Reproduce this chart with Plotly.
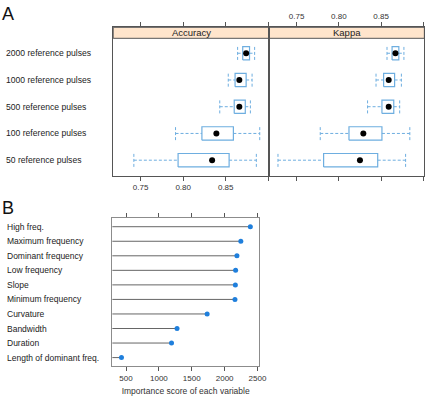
import plotly.graph_objects as go

W, H = 436, 396

# ---------------- Data ----------------
groups = ["50 reference pulses", "100 reference pulses", "500 reference pulses",
          "1000 reference pulses", "2000 reference pulses"]

acc_low = [0.742, 0.791, 0.843, 0.853, 0.864]
acc_q1 = [0.794, 0.822, 0.860, 0.861, 0.870]
acc_med = [0.834, 0.839, 0.866, 0.866, 0.874]
acc_q3 = [0.854, 0.859, 0.873, 0.874, 0.878]
acc_high = [0.886, 0.890, 0.879, 0.881, 0.884]

kap_low = [0.728, 0.778, 0.834, 0.844, 0.857]
kap_q1 = [0.782, 0.812, 0.851, 0.853, 0.863]
kap_med = [0.825, 0.829, 0.859, 0.859, 0.867]
kap_q3 = [0.846, 0.851, 0.865, 0.866, 0.871]
kap_high = [0.879, 0.884, 0.872, 0.874, 0.877]

variables = ["Length of dominant freq.", "Duration", "Bandwidth", "Curvature",
             "Minimum frequency", "Slope", "Low frequency", "Dominant frequency",
             "Maximum frequency", "High freq."]
importance = [431, 1192, 1276, 1734, 2157, 2163, 2167, 2187, 2246, 2391]

acc_ticks = [0.75, 0.80, 0.85, 0.90]
acc_ticktext = ["0.75", "0.80", "0.85", ""]
imp_ticks = [500, 1000, 1500, 2000, 2500]

# ---------------- Style ----------------
BOX = "#6eaee0"
DOT_B = "#1f7fdc"
BORDER_A = "#555555"
BORDER_B = "#8c8c8c"
STRIP = "#ffe5cc"
FONT = "Liberation Sans, Arial, sans-serif"
HALF = 0.25

def px_x(p):
    return p / W

def px_y(p):
    return 1 - p / H

fig = go.Figure()

def add_boxes(low, q1, med, q3, high, xa, ya):
    for i in range(len(groups)):
        y = i + 1
        fig.add_trace(go.Scatter(
            x=[q1[i], q3[i], q3[i], q1[i], q1[i]],
            y=[y - HALF, y - HALF, y + HALF, y + HALF, y - HALF],
            mode="lines", line=dict(color=BOX, width=1.2),
            xaxis=xa, yaxis=ya, showlegend=False, hoverinfo="skip"))
        for xa_end, xb_end in [(low[i], q1[i]), (q3[i], high[i])]:
            fig.add_trace(go.Scatter(
                x=[xa_end, xb_end], y=[y, y], mode="lines",
                line=dict(color=BOX, width=1, dash="3px,2px"),
                xaxis=xa, yaxis=ya, showlegend=False, hoverinfo="skip"))
        for fx in (low[i], high[i]):
            fig.add_trace(go.Scatter(
                x=[fx, fx], y=[y - HALF, y + HALF], mode="lines",
                line=dict(color=BOX, width=1, dash="3px,2px"),
                xaxis=xa, yaxis=ya, showlegend=False, hoverinfo="skip"))
    fig.add_trace(go.Scatter(
        x=med, y=list(range(1, len(groups) + 1)), mode="markers",
        marker=dict(color="black", size=6),
        xaxis=xa, yaxis=ya, showlegend=False, hoverinfo="skip"))

add_boxes(acc_low, acc_q1, acc_med, acc_q3, acc_high, "x", "y")
add_boxes(kap_low, kap_q1, kap_med, kap_q3, kap_high, "x2", "y2")

# Panel B lollipops
xmin_b = 290
for i, v in enumerate(importance):
    fig.add_trace(go.Scatter(
        x=[xmin_b, v], y=[i + 1, i + 1], mode="lines",
        line=dict(color="#666666", width=1),
        xaxis="x3", yaxis="y3", showlegend=False, hoverinfo="skip"))
fig.add_trace(go.Scatter(
    x=importance, y=list(range(1, len(variables) + 1)), mode="markers",
    marker=dict(color=DOT_B, size=5),
    xaxis="x3", yaxis="y3", showlegend=False, hoverinfo="skip"))

# ---------------- Layout ----------------
a_top, a_bot = 27.3, 175.7
strip_bot = 38.3
yA_range = [0.42, 5.97]

common_x = dict(range=[0.7177, 0.9012], tickvals=acc_ticks, ticktext=acc_ticktext,
                ticks="outside", ticklen=4, tickcolor=BORDER_A, showgrid=False,
                zeroline=False, showline=True, linecolor=BORDER_A, linewidth=1,
                mirror="ticks", tickfont=dict(size=8, color="#333333", family=FONT))

fig.update_layout(
    width=W, height=H, margin=dict(l=0, r=0, t=0, b=0),
    paper_bgcolor="white", plot_bgcolor="white",
    font=dict(family=FONT, color="#222222"),
    xaxis=dict(domain=[px_x(115.3), px_x(274.3)], anchor="y", side="bottom", **common_x),
    xaxis2=dict(domain=[px_x(274.3), px_x(432.3)], anchor="y2", side="top", **common_x),
    yaxis=dict(domain=[px_y(a_bot), px_y(a_top)], range=yA_range, anchor="x",
               showticklabels=False, ticks="", showgrid=False, zeroline=False,
               showline=True, linecolor=BORDER_A, mirror=True),
    yaxis2=dict(domain=[px_y(a_bot), px_y(a_top)], range=yA_range, anchor="x2",
                showticklabels=False, ticks="", showgrid=False, zeroline=False,
                showline=True, linecolor=BORDER_A, mirror=True),
    xaxis3=dict(domain=[px_x(114.3), px_x(264)], anchor="y3", range=[xmin_b, 2525],
                tickvals=imp_ticks, ticks="outside", ticklen=4, tickcolor=BORDER_A,
                showgrid=False, zeroline=False, showline=True, linecolor=BORDER_B,
                mirror="ticks", tickfont=dict(size=8, color="#333333", family=FONT),
                title=dict(text="Importance score of each variable",
                           font=dict(size=8.5, color="#333333", family=FONT), standoff=6)),
    yaxis3=dict(domain=[px_y(366.3), px_y(217.7)], anchor="x3", range=[0.4, 10.62],
                showticklabels=False, ticks="", showgrid=False, zeroline=False,
                showline=True, linecolor=BORDER_B, mirror=True),
)

shapes = []
annotations = []
for x0, x1, label in [(115.3, 274.3, "Accuracy"), (274.3, 432.3, "Kappa")]:
    shapes.append(dict(type="rect", xref="paper", yref="paper",
                       x0=px_x(x0), x1=px_x(x1), y0=px_y(strip_bot), y1=px_y(a_top),
                       fillcolor=STRIP, line=dict(color=BORDER_A, width=1), layer="below"))
    annotations.append(dict(text=label, xref="paper", yref="paper",
                            x=(px_x(x0) + px_x(x1)) / 2, y=px_y((a_top + strip_bot) / 2),
                            showarrow=False, xanchor="center", yanchor="middle",
                            font=dict(size=9.5, color="#222222", family=FONT)))

for i, g in enumerate(groups):
    annotations.append(dict(text=g, xref="paper", yref="y", x=px_x(4.5), y=i + 1,
                            xanchor="left", yanchor="middle", showarrow=False,
                            font=dict(size=8.6, color="#222222", family=FONT)))
for i, v in enumerate(variables):
    annotations.append(dict(text=v, xref="paper", yref="y3", x=px_x(5.5), y=i + 1,
                            xanchor="left", yanchor="middle", showarrow=False,
                            font=dict(size=8.5, color="#222222", family=FONT)))

annotations.append(dict(text="A", xref="paper", yref="paper", x=0, y=px_y(14),
                        xanchor="left", yanchor="middle", showarrow=False,
                        font=dict(size=18, color="#111111", family=FONT)))
annotations.append(dict(text="B", xref="paper", yref="paper", x=0, y=px_y(208),
                        xanchor="left", yanchor="middle", showarrow=False,
                        font=dict(size=18, color="#111111", family=FONT)))

fig.update_layout(shapes=shapes, annotations=annotations)

fig.write_html("out.html")
